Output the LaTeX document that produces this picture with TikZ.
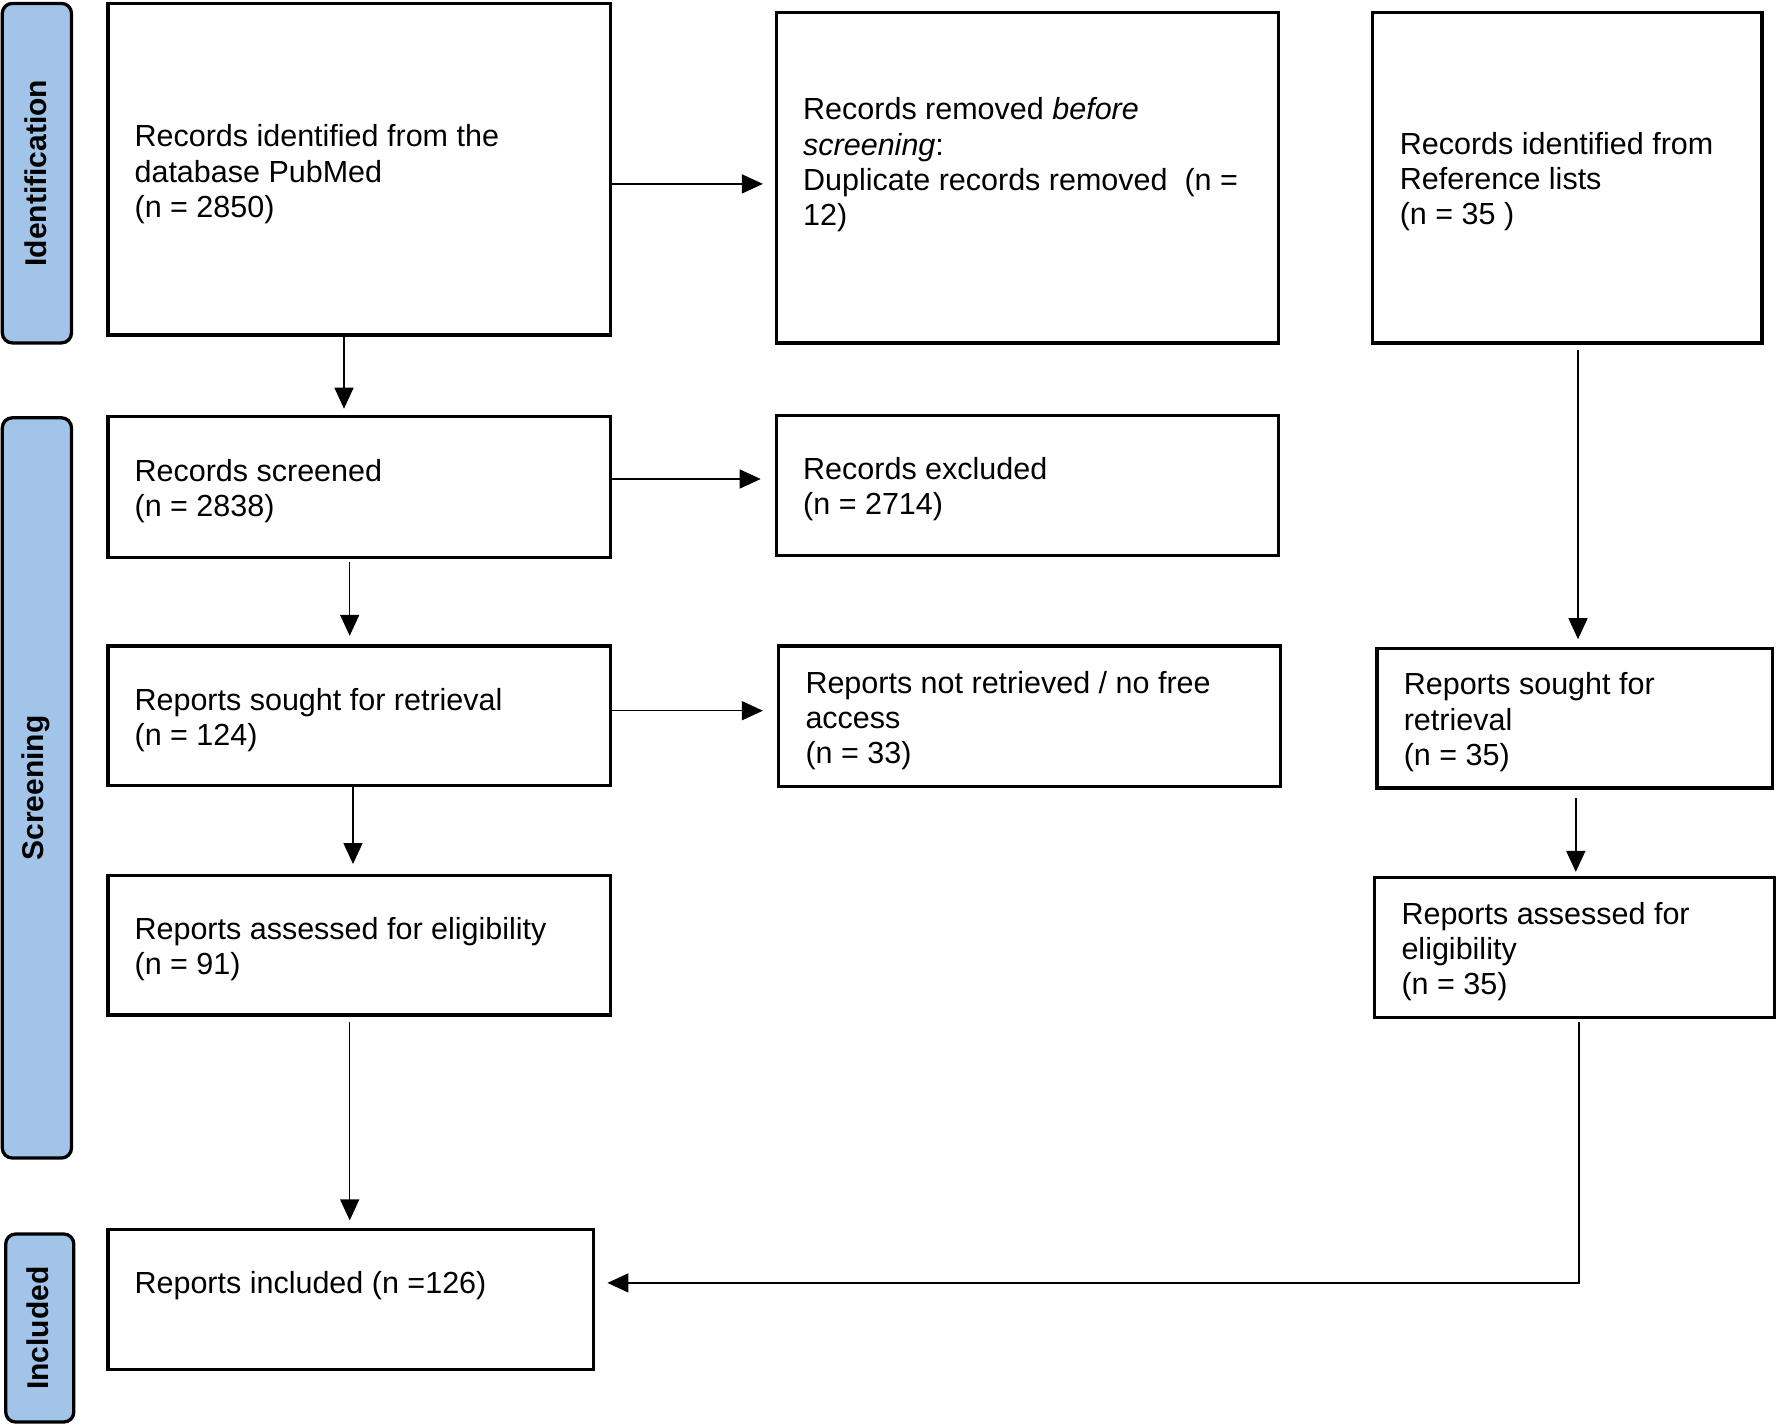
\documentclass[tikz,border=0pt]{standalone}
\usepackage{fontspec}
\setmainfont{Liberation Sans}
\usetikzlibrary{arrows.meta,calc}
\definecolor{sidebl}{RGB}{162,196,232}
\begin{document}
\begin{tikzpicture}[x=1pt,y=-1pt,
  box/.style={draw, line width=3.3pt, inner sep=0pt, outer sep=0pt, anchor=north west},
  side/.style={draw, line width=3.3pt, fill=sidebl, rounded corners=10pt, inner sep=0pt, outer sep=0pt, anchor=north west},
  sidetxt/.style={rotate=90, font=\fontsize{30}{35}\selectfont\bfseries, inner sep=0pt},
  txt/.style={anchor=west, align=left, inner sep=0pt, font=\fontsize{30.5}{35.2}\selectfont},
  arr/.style={line width=1.5pt, -{Triangle[length=21pt,width=19pt]}}]
\useasboundingbox (0,0) rectangle (1779,1425);

% sidebars
\node[side, minimum width=69.2pt, minimum height=339.5pt] (s1) at (2.3,3.4) {};
\node[side, minimum width=69.2pt, minimum height=740.2pt] (s2) at (2.3,417.8) {};
\node[side, minimum width=68.1pt, minimum height=188pt] (s3) at (5.7,1234) {};
\node[sidetxt] (l1) at ([xshift=-1.5pt]s1.center) {Identification};
\node[sidetxt] (l2) at ([xshift=-1.5pt]s2.center) {Screening};
\node[sidetxt] (l3) at ([xshift=-1.5pt]s3.center) {Included};

% boxes
\node[box, minimum width=502.9pt, minimum height=331.5pt] (b1) at (107.9,3.4) {};
\node[box, minimum width=501.8pt, minimum height=330.4pt] (b2) at (776.5,12.5) {};
\node[box, minimum width=389.4pt, minimum height=330.4pt] (b3) at (1372.6,12.5) {};
\node[box, minimum width=502.9pt, minimum height=140.7pt] (b4) at (107.9,416.7) {};
\node[box, minimum width=501.8pt, minimum height=139.7pt] (b5) at (776.5,415.5) {};
\node[box, minimum width=502.9pt, minimum height=139.6pt] (b6) at (107.9,646) {};
\node[box, minimum width=501.8pt, minimum height=140.8pt] (b7) at (778.8,646) {};
\node[box, minimum width=395.1pt, minimum height=139.6pt] (b8) at (1377.1,648.3) {};
\node[box, minimum width=502.9pt, minimum height=139.7pt] (b9) at (107.9,875.3) {};
\node[box, minimum width=399.7pt, minimum height=139.6pt] (b10) at (1374.8,877.6) {};
\node[box, minimum width=485.9pt, minimum height=139.7pt] (b11) at (107.9,1229.5) {};

% texts
\node[txt] (t1) at ([xshift=26.5pt,yshift=-5pt]b1.west) {Records identified from the\\database PubMed\\(n = 2850)};
\node[txt] (t2) at ([xshift=26.5pt,yshift=13pt]b2.west) {Records removed \textit{before}\\\textit{screening}:\\Duplicate records removed\ \ (n =\\12)};
\node[txt] (t3) at ([xshift=27pt,yshift=-4pt]b3.west) {Records identified from\\Reference lists\\(n = 35 )};
\node[txt] (t4) at ([xshift=26.5pt,yshift=-4pt]b4.west) {Records screened\\(n = 2838)};
\node[txt] (t5) at ([xshift=26.5pt,yshift=-4pt]b5.west) {Records excluded\\(n = 2714)};
\node[txt] (t6) at ([xshift=26.5pt,yshift=-4pt]b6.west) {Reports sought for retrieval\\(n = 124)};
\node[txt] (t7) at ([xshift=26.5pt,yshift=-4pt]b7.west) {Reports not retrieved / no free\\access\\(n = 33)};
\node[txt] (t8) at ([xshift=26.5pt,yshift=-4pt]b8.west) {Reports sought for\\retrieval\\(n = 35)};
\node[txt] (t9) at ([xshift=26.5pt,yshift=-4pt]b9.west) {Reports assessed for eligibility\\(n = 91)};
\node[txt] (t10) at ([xshift=26.5pt,yshift=-4pt]b10.west) {Reports assessed for\\eligibility\\(n = 35)};
\node[txt] (t11) at ([xshift=26.5pt,yshift=14pt]b11.west) {Reports included (n =126)};

% connectors
\coordinate (h1) at (0,183.9);
\draw[arr, shorten >=13.6pt] (b1.east |- h1) -- (b2.west |- h1);
\coordinate (v1) at (344,0);
\draw[arr, shorten >=8pt] (b1.south -| v1) -- (b4.north -| v1);
\coordinate (h2) at (0,479);
\draw[arr, shorten >=15.8pt] (b4.east |- h2) -- (b5.west |- h2);
\coordinate (v2) at (349.7,0);
\draw[arr, shorten <=4.6pt, shorten >=10.2pt] (b4.south -| v2) -- (b6.north -| v2);
\coordinate (h3) at (0,710.7);
\draw[arr, shorten >=15.9pt] (b6.east |- h3) -- (b7.west |- h3);
\coordinate (v3) at (353,0);
\draw[arr, shorten >=11.3pt] (b6.south -| v3) -- (b9.north -| v3);
\coordinate (v4) at (349.7,0);
\draw[arr, shorten <=6.8pt, shorten >=9.1pt] (b9.south -| v4) -- (b11.north -| v4);
\coordinate (v5) at (1578,0);
\draw[arr, shorten <=6.8pt, shorten >=9.1pt] (b3.south -| v5) -- (b8.north -| v5);
\coordinate (v6) at (1575.8,0);
\draw[arr, shorten <=10.1pt, shorten >=5.7pt] (b8.south -| v6) -- (b10.north -| v6);
\coordinate (v7) at (1579.2,0);
\coordinate (h4) at (0,1282.9);
\draw[arr, shorten <=4.6pt, shorten >=13.6pt] (b10.south -| v7) -- (v7 |- h4) -- (b11.east |- h4);
\end{tikzpicture}
\end{document}
